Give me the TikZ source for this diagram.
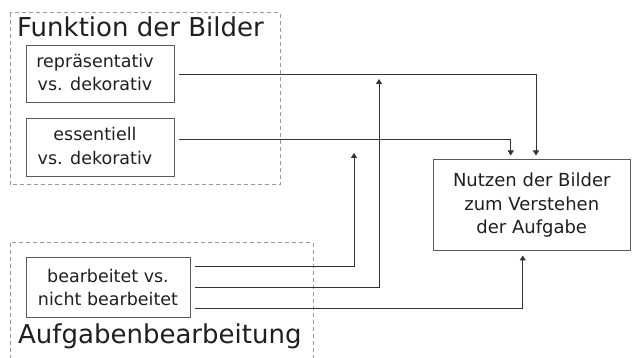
\documentclass[tikz,border=0pt]{standalone}
\usepackage{fontspec}
\setmainfont{DejaVu Sans}
\usetikzlibrary{arrows.meta,calc}
\begin{document}
\begin{tikzpicture}[x=1pt,y=-1pt,
  box/.style={draw=black!65,line width=1pt,align=center,inner sep=0pt,
    font=\fontsize{17.5}{23.5}\selectfont,text=black!88},
  group/.style={draw=black!40,line width=1pt,dash pattern=on 4pt off 3pt},
  title/.style={anchor=base west,inner sep=0pt,font=\fontsize{26}{30}\selectfont,text=black!88},
  arr/.style={draw=black!80,line width=1pt,-{Triangle[width=6pt,length=5pt]}}]
\useasboundingbox (0,0) rectangle (632,358);
\clip (0,0) rectangle (632,358);
% groups
\draw[group] (10,13) rectangle (280,185);
\draw[group] (10,243) rectangle (313,370);
\node[title] (t1) at (17,37) {Funktion der Bilder};
\node[title] (t2) at (18,343) {Aufgabenbearbeitung};
% boxes
\node[box,minimum width=148pt,minimum height=57pt] (b1) at (100,74.5)
  {\begin{tabular}{@{}c@{\hspace{10pt}}}repräsentativ\\vs. dekorativ\end{tabular}};
\node[box,minimum width=148pt,minimum height=58pt] (b2) at (100,148)
  {\begin{tabular}{@{}c@{\hspace{10pt}}}essentiell\\vs. dekorativ\end{tabular}};
\node[box,minimum width=164pt,minimum height=59pt] (b3) at (108,287.5)
  {bearbeitet vs.\\nicht bearbeitet};
\node[box,minimum width=197.5pt,minimum height=91pt,font=\fontsize{18}{23.5}\selectfont] (b4) at (531.75,205.5)
  {Nutzen der Bilder\\zum Verstehen\\der Aufgabe};
% free ends
\coordinate (c1) at (354,153);
\coordinate (c2) at (379,79);
% connectors
\draw[arr,shorten >=4pt] ($(b1.east)+(4,0.5)$) -| ($(b4.north)+(4.25,0)$);
\draw[arr,shorten >=4pt] ($(b2.east)+(4,-8)$) -| ($(b4.north)+(-21,0)$);
\draw[arr] ($(b3.east)+(4,-20.5)$) -| (c1);
\draw[arr] ($(b3.east)+(4,0)$) -| (c2);
\draw[arr,shorten >=4pt] ($(b3.east)+(4,20.5)$) -| ($(b4.south)+(-9,0)$);
\end{tikzpicture}
\end{document}
